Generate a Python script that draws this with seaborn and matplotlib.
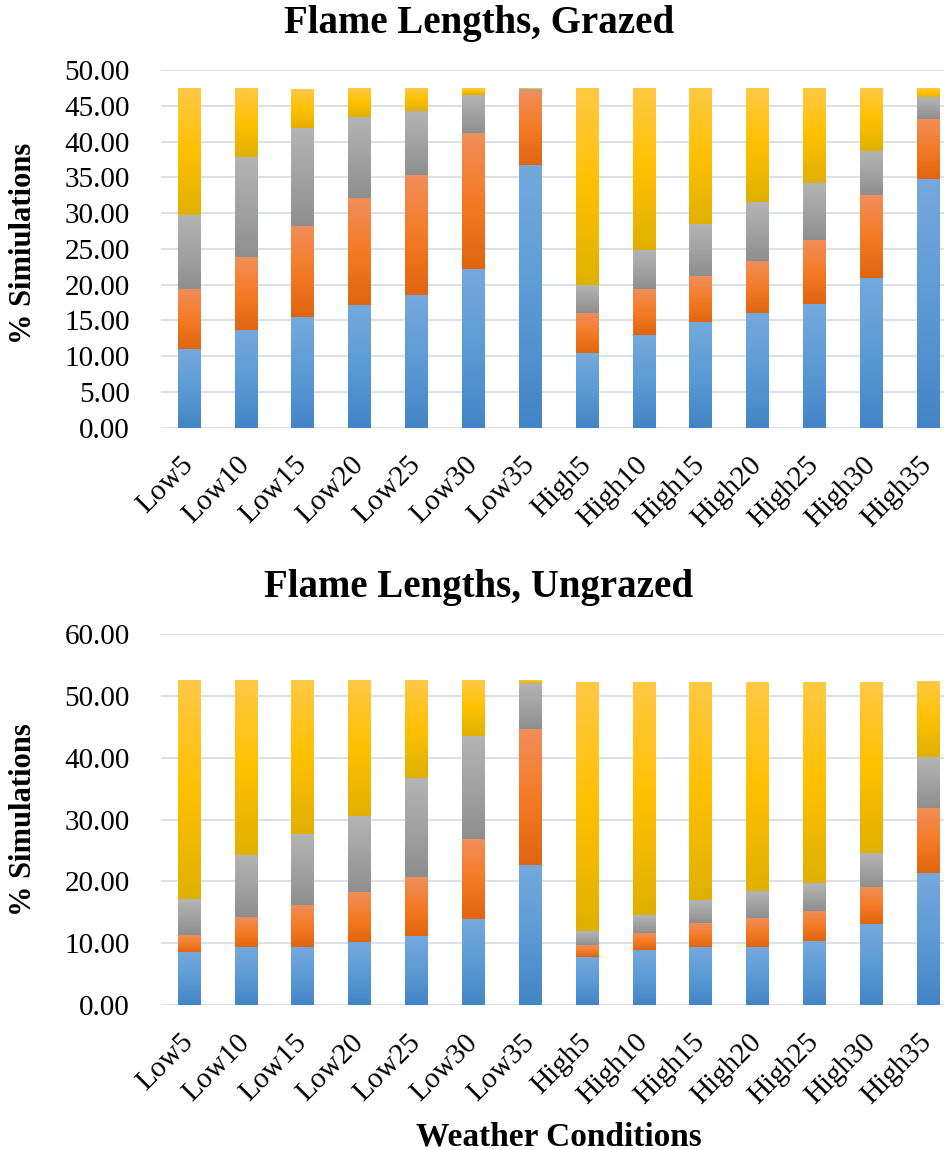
import numpy as np
import pandas as pd
import matplotlib
matplotlib.use("Agg")
import matplotlib.pyplot as plt
from matplotlib.colors import LinearSegmentedColormap
from matplotlib.ticker import FormatStrFormatter, MultipleLocator
import seaborn as sns

# Weather scenarios (wind class + speed)
conditions = ["Low5", "Low10", "Low15", "Low20", "Low25", "Low30", "Low35",
              "High5", "High10", "High15", "High20", "High25", "High30", "High35"]

# Share of simulations (%) per flame-length class, grazed landscape
grazed_fl1 = [11.00, 13.56, 15.42, 17.15, 18.55, 22.18, 36.67,
              10.39, 12.95, 14.68, 15.98, 17.29, 20.88, 34.76]
grazed_fl2 = [8.29, 10.21, 12.63, 14.82, 16.68, 18.92, 10.30,
              5.50, 6.34, 6.52, 7.23, 8.85, 11.51, 8.34]
grazed_fl3 = [10.44, 14.07, 13.75, 11.41, 9.04, 5.45, 0.37,
              4.05, 5.59, 7.13, 8.38, 8.02, 6.29, 3.03]
grazed_fl4 = [17.66, 9.55, 5.59, 4.01, 3.12, 0.84, 0.05,
              27.45, 22.51, 19.06, 15.80, 13.23, 8.71, 1.26]

# Share of simulations (%) per flame-length class, ungrazed landscape
ungrazed_fl1 = [8.41, 9.22, 9.38, 10.03, 11.05, 13.85, 22.48,
                7.71, 8.89, 9.22, 9.38, 10.35, 13.05, 21.19]
ungrazed_fl2 = [2.91, 5.01, 6.68, 8.14, 9.60, 12.78, 22.05,
                1.83, 2.65, 3.93, 4.64, 4.85, 5.93, 10.56]
ungrazed_fl3 = [5.82, 9.92, 11.59, 12.45, 15.90, 16.71, 7.60,
                2.32, 2.96, 3.88, 4.31, 4.42, 5.60, 8.30]
ungrazed_fl4 = [35.36, 28.35, 24.85, 21.88, 15.95, 9.16, 0.37,
                40.32, 37.68, 35.15, 33.85, 32.56, 27.60, 12.13]

# Gradient stops (bottom, middle, top) for each stacked class
gradients = [
    ["#4384C6", "#5B9BD5", "#75A9DD"],
    ["#E1640F", "#F47B25", "#F18E5A"],
    ["#8E8E8E", "#A2A2A2", "#B4B4B4"],
    ["#E0B000", "#FFC000", "#FFC945"],
]
flat_colors = ["#5B9BD5", "#ED7D31", "#A5A5A5", "#FFC000"]

sns.set_style("white")
plt.rcParams["font.family"] = ["Liberation Serif", "DejaVu Serif"]
plt.rcParams["text.color"] = "black"
plt.rcParams["xtick.color"] = "black"
plt.rcParams["ytick.color"] = "black"

W, H = 944, 1150
fig = plt.figure(figsize=(W / 100, H / 100), dpi=100)

grid_color = "#D9DDE6"
grad = np.linspace(0, 1, 256).reshape(-1, 1)


def stacked(ax, series, ymax, ystep):
    cum = np.cumsum(np.array(series, dtype=float), axis=0)
    layers = []
    # tallest stack first so the lower classes sit on top of it
    for i in range(len(series) - 1, -1, -1):
        n0 = len(ax.patches)
        df = pd.DataFrame({"cond": conditions, "val": cum[i]})
        sns.barplot(data=df, x="cond", y="val", order=conditions, ax=ax,
                    color=flat_colors[i], saturation=1, width=0.4,
                    errorbar=None, linewidth=0, zorder=2)
        layers.append((i, ax.patches[n0:]))
    # per-segment vertical gradient fill
    for i, patches in layers:
        cmap = LinearSegmentedColormap.from_list(f"g{i}", gradients[i])
        lower = cum[i - 1] if i > 0 else np.zeros(len(conditions))
        for j, p in enumerate(patches):
            x0 = p.get_x()
            x1 = x0 + p.get_width()
            if cum[i][j] - lower[j] <= 0:
                continue
            ax.imshow(grad, cmap=cmap, origin="lower", aspect="auto",
                      extent=(x0, x1, lower[j], cum[i][j]),
                      interpolation="bilinear", zorder=3)
    ax.set_xlim(-0.5, len(conditions) - 0.5)
    ax.set_ylim(0, ymax)
    ax.yaxis.set_major_locator(MultipleLocator(ystep))
    ax.yaxis.set_major_formatter(FormatStrFormatter("%.2f"))
    ax.yaxis.grid(True, color=grid_color, lw=1.3)
    ax.xaxis.grid(False)
    ax.set_axisbelow(True)
    for s in ax.spines.values():
        s.set_visible(False)
    ax.tick_params(axis="both", length=0, labelsize=21, colors="black")
    ax.tick_params(axis="y", pad=22)
    ax.tick_params(axis="x", pad=24)
    plt.setp(ax.get_xticklabels(), rotation=45, ha="right", va="center",
             rotation_mode="anchor")
    ax.set_xlabel("")
    ax.set_ylabel("")


ax_left = 160.6 / W
ax_width = 796 / W

ax1 = fig.add_axes([ax_left, (H - 427.7) / H, ax_width, 357.7 / H])
stacked(ax1, [grazed_fl1, grazed_fl2, grazed_fl3, grazed_fl4], 50, 5)

ax2 = fig.add_axes([ax_left, (H - 1005) / H, ax_width, 371 / H])
stacked(ax2, [ungrazed_fl1, ungrazed_fl2, ungrazed_fl3, ungrazed_fl4], 60, 10)

fig.text(479 / W, (H - 33) / H, "Flame Lengths, Grazed", ha="center",
         va="baseline", fontsize=28, fontweight="bold", color="black")
fig.text(479 / W, (H - 597) / H, "Flame Lengths, Ungrazed", ha="center",
         va="baseline", fontsize=28, fontweight="bold", color="black")
fig.text(24 / W, (H - 243) / H, "% Simiulations", rotation=90, ha="center",
         va="center", fontsize=22, fontweight="bold", color="black")
fig.text(24 / W, (H - 820) / H, "% Simulations", rotation=90, ha="center",
         va="center", fontsize=22, fontweight="bold", color="black")
fig.text(558.5 / W, (H - 1145) / H, "Weather Conditions", ha="center",
         va="baseline", fontsize=24, fontweight="bold", color="black")

fig.savefig("out.png", dpi=100)
